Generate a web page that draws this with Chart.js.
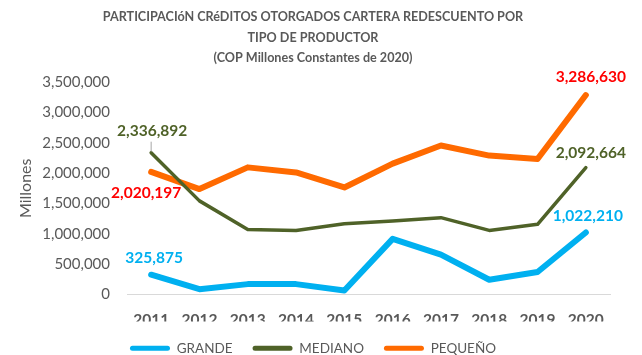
<!DOCTYPE html>
<html>
<head>
<meta charset="utf-8">
<script src="https://cdn.jsdelivr.net/npm/chart.js@4"></script>
<style>
  html, body { margin: 0; padding: 0; background: #fff; }
  #wrap { width: 642px; height: 355px; }
</style>
</head>
<body>
<div id="wrap"><canvas id="myChart" width="642" height="355"></canvas></div>
<script>
const years = ['2011', '2012', '2013', '2014', '2015', '2016', '2017', '2018', '2019', '2020']
const grande = [325875, 88000, 171000, 171000, 66000, 917000, 658000, 243000, 370000, 1022210]
const mediano = [2336892, 1543000, 1073000, 1056000, 1166000, 1211000, 1266000, 1056000, 1156000, 2092664]
const pequeno = [2020197, 1737000, 2095000, 2012000, 1764000, 2157000, 2455000, 2289000, 2234000, 3286630]
const yTicks = [0, 500000, 1000000, 1500000, 2000000, 2500000, 3000000, 3500000]

const fontFamily = 'Lato, "Open Sans", sans-serif'
const grey = '#595959'

// ***** value labels at the first and last year *****
// each entry: dataset index, point index, colour, offset from the point, optional leader line
const valueLabels = [
  { ds: 0, i: 0, color: '#00B0F0', dx: 3, dy: -17 },
  { ds: 0, i: 9, color: '#00B0F0', dx: 2, dy: -16 },
  { ds: 1, i: 0, color: '#4F6228', dx: 1, dy: -22, leader: true },
  { ds: 1, i: 9, color: '#4F6228', dx: 5, dy: -15 },
  { ds: 2, i: 0, color: '#FF0000', dx: -5, dy: 21 },
  { ds: 2, i: 9, color: '#FF0000', dx: 5, dy: -18 },
]

const valueLabelPlugin = {
  id: 'valueLabels',
  afterDatasetsDraw(chart) {
    const ctx = chart.ctx
    ctx.save()
    ctx.font = 'bold 15.5px ' + fontFamily
    ctx.textAlign = 'center'
    ctx.textBaseline = 'middle'
    valueLabels.forEach(l => {
      const pt = chart.getDatasetMeta(l.ds).data[l.i]
      const value = chart.data.datasets[l.ds].data[l.i]
      const x = pt.x + l.dx
      const y = pt.y + l.dy
      if (l.leader) {
        ctx.strokeStyle = '#A6A6A6'
        ctx.lineWidth = 1
        ctx.beginPath()
        ctx.moveTo(pt.x, y + 11)
        ctx.lineTo(pt.x, pt.y - 1)
        ctx.stroke()
      }
      ctx.fillStyle = l.color
      ctx.fillText(value.toLocaleString('en-US'), x, y)
    })
    ctx.restore()
  }
}

// ***** The chart *****
const ctx = document.getElementById('myChart').getContext('2d')
const myChart = new Chart(ctx, {
  type: 'line',
  data: {
    labels: years,
    datasets: [
      { label: 'GRANDE', data: grande, borderColor: '#00B0F0', backgroundColor: '#00B0F0', borderWidth: 6 },
      { label: 'MEDIANO', data: mediano, borderColor: '#4F6228', backgroundColor: '#4F6228', borderWidth: 3.5 },
      { label: 'PEQUEÑO', data: pequeno, borderColor: '#FF6A00', backgroundColor: '#FF6A00', borderWidth: 6 },
    ]
  },
  options: {
    responsive: false,
    animation: false,
    layout: { padding: { left: 16, right: 32, top: 7, bottom: -10 } },
    elements: {
      line: { tension: 0, borderCapStyle: 'round', borderJoinStyle: 'round' },
      point: { radius: 0, hoverRadius: 0 }
    },
    plugins: {
      title: {
        display: true,
        text: ['PARTICIPACIóN CRéDITOS OTORGADOS CARTERA REDESCUENTO POR', 'TIPO DE PRODUCTOR', '(COP Millones Constantes de 2020)'],
        color: grey,
        font: { family: fontFamily, size: 12.6, weight: 'bold', lineHeight: 1.63 },
        padding: { top: 0, bottom: 13.5 }
      },
      legend: {
        position: 'bottom',
        labels: {
          color: grey,
          font: { family: fontFamily, size: 13.5 },
          boxWidth: 40,
          boxHeight: 5,
          padding: 20,
          useBorderRadius: true,
          borderRadius: 2.5,
          generateLabels: chart => Chart.defaults.plugins.legend.labels.generateLabels(chart)
            .map(item => ({ ...item, lineWidth: 0 }))
        }
      },
      tooltip: { enabled: false }
    },
    scales: {
      x: {
        offset: true,
        grid: { display: false, drawTicks: false },
        border: { display: true, color: '#D9D9D9', width: 1 },
        ticks: { color: grey, font: { family: fontFamily, size: 15.5, weight: 'bold' }, padding: 16 },
        afterFit: axis => { axis.height = 27 }
      },
      y: {
        min: 0,
        max: 3500000,
        grid: { display: false, drawTicks: false },
        border: { display: false },
        afterBuildTicks: axis => { axis.ticks = yTicks.map(v => ({ value: v })) },
        afterFit: axis => { axis.width = 111 },
        ticks: {
          color: grey,
          font: { family: fontFamily, size: 15 },
          padding: 17,
          callback: v => v.toLocaleString('en-US')
        },
        title: {
          display: true,
          text: 'Millones',
          color: grey,
          font: { family: fontFamily, size: 16 },
          padding: { top: 0, bottom: 0 }
        }
      }
    }
  },
  plugins: [valueLabelPlugin]
})
</script>
</body>
</html>
